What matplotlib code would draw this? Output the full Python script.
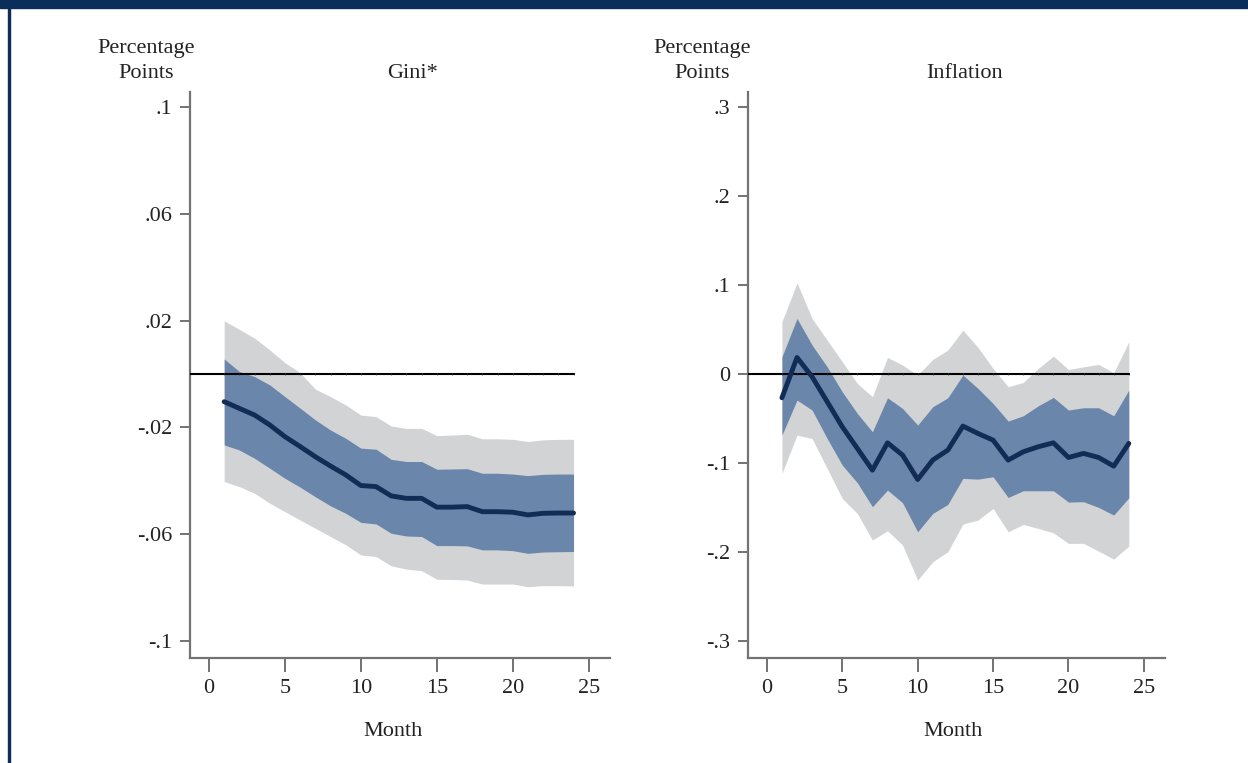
import numpy as np
import matplotlib.pyplot as plt
from matplotlib.patches import Rectangle

### donnees ###

months = np.arange(1, 25)

gini_irf = [-0.0104, -0.0129, -0.0154, -0.0191, -0.0235, -0.0272, -0.0310, -0.0345,
            -0.0378, -0.0418, -0.0422, -0.0457, -0.0466, -0.0466, -0.0499, -0.0499,
            -0.0497, -0.0516, -0.0516, -0.0518, -0.0528, -0.0522, -0.0521, -0.0521]
gini_hi68 = [0.0056, 0.0009, -0.0010, -0.0041, -0.0085, -0.0128, -0.0172, -0.0210,
             -0.0241, -0.0278, -0.0282, -0.0320, -0.0328, -0.0328, -0.0357, -0.0356,
             -0.0355, -0.0372, -0.0372, -0.0375, -0.0381, -0.0376, -0.0375, -0.0375]
gini_lo68 = [-0.0266, -0.0285, -0.0316, -0.0353, -0.0391, -0.0424, -0.0460, -0.0494,
             -0.0522, -0.0556, -0.0562, -0.0597, -0.0607, -0.0609, -0.0643, -0.0643,
             -0.0644, -0.0659, -0.0659, -0.0662, -0.0672, -0.0667, -0.0666, -0.0665]
gini_hi90 = [0.0199, 0.0167, 0.0134, 0.0090, 0.0042, 0.0005, -0.0057, -0.0085,
             -0.0116, -0.0154, -0.0160, -0.0195, -0.0204, -0.0204, -0.0231, -0.0229,
             -0.0226, -0.0243, -0.0243, -0.0245, -0.0253, -0.0247, -0.0245, -0.0245]
gini_lo90 = [-0.0403, -0.0422, -0.0447, -0.0484, -0.0516, -0.0547, -0.0578, -0.0609,
             -0.0640, -0.0678, -0.0684, -0.0719, -0.0731, -0.0737, -0.0769, -0.0770,
             -0.0772, -0.0787, -0.0787, -0.0787, -0.0797, -0.0793, -0.0793, -0.0794]

infl_irf = [-0.0266, 0.0187, -0.0030, -0.0310, -0.0592, -0.0835, -0.1079, -0.0772,
            -0.0910, -0.1184, -0.0966, -0.0854, -0.0584, -0.0667, -0.0742, -0.0966,
            -0.0873, -0.0816, -0.0772, -0.0937, -0.0891, -0.0937, -0.1034, -0.0779]
infl_hi68 = [0.0195, 0.0625, 0.0326, 0.0082, -0.0199, -0.0442, -0.0648, -0.0266,
             -0.0386, -0.0573, -0.0367, -0.0266, -0.0011, -0.0161, -0.0330, -0.0528,
             -0.0468, -0.0356, -0.0262, -0.0404, -0.0378, -0.0378, -0.0468, -0.0180]
infl_lo68 = [-0.0685, -0.0292, -0.0404, -0.0723, -0.1022, -0.1221, -0.1490, -0.1303,
             -0.1446, -0.1772, -0.1566, -0.1464, -0.1172, -0.1180, -0.1154, -0.1386,
             -0.1311, -0.1311, -0.1311, -0.1438, -0.1434, -0.1498, -0.1584, -0.1390]
infl_hi90 = [0.0588, 0.1026, 0.0625, 0.0382, 0.0139, -0.0105, -0.0255, 0.0187,
             0.0101, -0.0011, 0.0165, 0.0270, 0.0494, 0.0300, 0.0064, -0.0142,
             -0.0094, 0.0064, 0.0202, 0.0052, 0.0082, 0.0109, 0.0015, 0.0363]
infl_lo90 = [-0.1116, -0.0685, -0.0723, -0.1060, -0.1397, -0.1566, -0.1865, -0.1760,
             -0.1921, -0.2315, -0.2109, -0.1996, -0.1685, -0.1640, -0.1510, -0.1772,
             -0.1689, -0.1734, -0.1783, -0.1902, -0.1902, -0.1989, -0.2079, -0.1933]

gini_yticks = [0.1, 0.06, 0.02, -0.02, -0.06, -0.1]
gini_ylabels = [".1", ".06", ".02", "-.02", "-.06", "-.1"]
infl_yticks = [0.3, 0.2, 0.1, 0, -0.1, -0.2, -0.3]
infl_ylabels = [".3", ".2", ".1", "0", "-.1", "-.2", "-.3"]
xticks = [0, 5, 10, 15, 20, 25]

### style ###

plt.rcParams['font.family'] = ['Liberation Serif', 'DejaVu Serif']
navy = '#122c55'
bleu = '#6a86aa'
gris = '#d2d3d5'
axe = '#737373'
texte = '#222222'
fs = 16


def panneau(ax, irf, lo68, hi68, lo90, hi90, yticks, ylabels, ylim):
    ax.fill_between(months, lo90, hi90, color=gris, lw=0)
    ax.fill_between(months, lo68, hi68, color=bleu, lw=0)
    ax.plot([-1.3, 24], [0, 0], color='black', lw=1.5, zorder=3)
    ax.plot(months, np.zeros(len(months)), ls='none', marker='|', ms=2,
            color='#333333', mew=0.5, zorder=3)  # petits traits sur la ligne zero
    ax.plot(months, irf, color=navy, lw=3.5, solid_capstyle='round',
            solid_joinstyle='round', zorder=4)
    ax.set_xlim(-1.25, 26.4)
    ax.set_ylim(*ylim)
    ax.set_xticks(xticks)
    ax.set_xticklabels([str(t) for t in xticks])
    ax.set_yticks(yticks)
    ax.set_yticklabels(ylabels)
    for s in ['top', 'right']:
        ax.spines[s].set_visible(False)
    for s in ['left', 'bottom']:
        ax.spines[s].set_color(axe)
        ax.spines[s].set_linewidth(1.6)
    ax.tick_params(axis='y', length=7, width=1.4, color=axe, labelcolor=texte,
                   labelsize=fs, pad=6)
    ax.tick_params(axis='x', length=10, width=1.4, color=axe, labelcolor=texte,
                   labelsize=fs, pad=5)


fig = plt.figure(figsize=(12.48, 7.63), dpi=100)
W, H = 1248, 763

ax1 = fig.add_axes([190 / W, 1 - 658 / H, 420 / W, 566 / H])
ax2 = fig.add_axes([748 / W, 1 - 658 / H, 417 / W, 566 / H])

panneau(ax1, gini_irf, gini_lo68, gini_hi68, gini_lo90, gini_hi90,
        gini_yticks, gini_ylabels, (-0.1064, 0.1056))
panneau(ax2, infl_irf, infl_lo68, infl_hi68, infl_lo90, infl_hi90,
        infl_yticks, infl_ylabels, (-0.319, 0.317))

# textes
fig.text(146 / W, 1 - 61 / H, "Percentage\nPoints", ha='center', va='center',
         fontsize=fs, linespacing=1.4, color=texte)
fig.text(702 / W, 1 - 61 / H, "Percentage\nPoints", ha='center', va='center',
         fontsize=fs, linespacing=1.4, color=texte)
fig.text(413 / W, 1 - 73 / H, "Gini*", ha='center', va='center', fontsize=fs, color=texte)
fig.text(965 / W, 1 - 73 / H, "Inflation", ha='center', va='center', fontsize=fs, color=texte)
fig.text(393 / W, 1 - 732 / H, "Month", ha='center', va='center', fontsize=fs, color=texte)
fig.text(953 / W, 1 - 732 / H, "Month", ha='center', va='center', fontsize=fs, color=texte)

# cadre bleu fonce
fig.patches.append(Rectangle((0, 1 - 8 / H), 1, 8 / H, transform=fig.transFigure,
                             color='#0a2d5a', zorder=10))
fig.patches.append(Rectangle((7.5 / W, 0), 2 / W, 1, transform=fig.transFigure,
                             color='#0a2d5a', zorder=10))

fig.savefig("out.png", dpi=100)
